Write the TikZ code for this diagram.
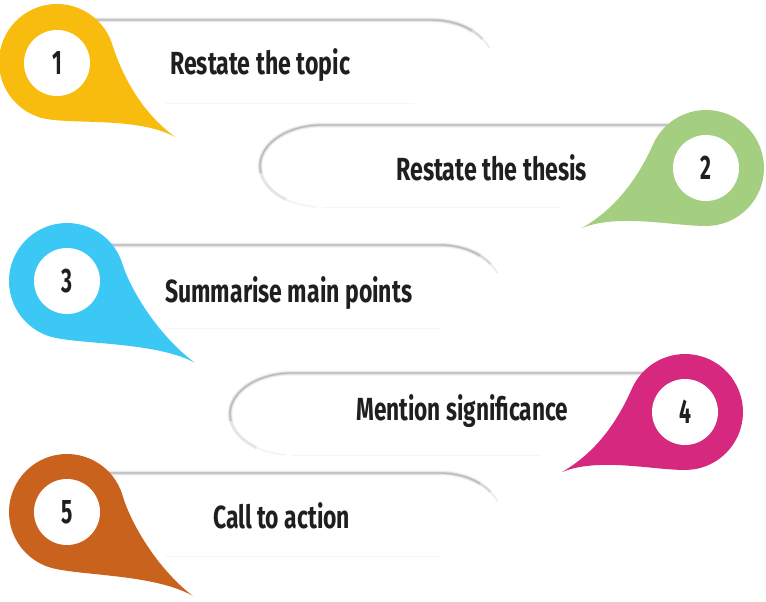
\documentclass[tikz,border=0pt]{standalone}
\usepackage{fontspec}
\setmainfont{Fira Sans}
\usepackage{graphicx}
\definecolor{pinyellow}{HTML}{F8BC0E}
\definecolor{pingreen}{HTML}{A4CF80}
\definecolor{pincyan}{HTML}{3CC8F4}
\definecolor{pinmagenta}{HTML}{D5287E}
\definecolor{pinorange}{HTML}{C8621C}
\tikzset{
  lbl/.style={font=\fontsize{32}{36}\selectfont\bfseries, text=black!88, inner sep=0pt},
  num/.style={font=\fontsize{34}{38}\selectfont\bfseries, text=black!88, inner sep=0pt},
  shadA/.style={line width=5pt, draw=gray!10, line cap=round},
  shadB/.style={line width=3pt, draw=gray!28, line cap=round},
  shadC/.style={line width=1.3pt, draw=gray!55, line cap=round},
  faint/.style={line width=1pt, draw=gray!7},
  hole/.style={circle, fill=white, minimum size=66pt, inner sep=0pt}
}
% #1 x, #2 y (pixels down), #3 xscale, #4 rotation, #5 tail length, #6 colour
\newcommand\drawpin[6]{%
  \begin{scope}[shift={(#1,-#2)}, xscale=#3, rotate=#4]
    \fill[#6] (#5,0) .. controls (#5-45,3) and (58.7,26.4) .. (50:58)
      arc[start angle=50, end angle=285, radius=58]
      .. controls (42.1,-48.8) and (#5-45,-3) .. (#5,0) -- cycle;
  \end{scope}}
% banner with round right end: #1 left x, #2 top y, #3 arc centre x, #4 bottom faint right x
\newcommand\bannerR[4]{%
  \foreach \s in {shadA,shadB,shadC}{
    \draw[\s] (#1,-#2) -- (#3,-#2) arc[start angle=90, end angle=50, x radius=62, y radius=45];
  }
  \draw[line width=2.6pt, draw=gray!30] (#3,-#2-45) ++(50:62 and 45)
     arc[start angle=50, end angle=35, x radius=62, y radius=45];
  \draw[line width=1.8pt, draw=gray!14] (#3,-#2-45) ++(35:62 and 45)
     arc[start angle=35, end angle=22, x radius=62, y radius=45];
  \draw[faint] (165,-#2-83) -- (#4,-#2-83);
}
% banner with round left end: #1 right x, #2 top y, #3 arc centre x, #4 bottom faint left x
\newcommand\bannerL[4]{%
  \foreach \s in {shadA,shadB,shadC}{
    \draw[\s] (#1,-#2) -- (#3,-#2) arc[start angle=90, end angle=190, x radius=62, y radius=41];
  }
  \draw[line width=3pt, draw=gray!20] (#3,-#2-41) ++(190:62 and 41)
     arc[start angle=190, end angle=235, x radius=62, y radius=41];
  \draw[line width=1.5pt, draw=gray!10] (#3,-#2-41) ++(235:62 and 41)
     arc[start angle=235, end angle=265, x radius=62, y radius=41];
  \draw[faint] (#3,-#2-82) -- (#4,-#2-82);
}
\begin{document}
\begin{tikzpicture}[x=1pt, y=1pt]
\useasboundingbox (0,0) rectangle (766,-602);
% banners
\bannerR{80}{20}{432}{415}
\bannerL{700}{125}{322}{560}
\bannerR{90}{245}{440}{440}
\bannerL{680}{373}{292}{540}
\bannerR{90}{473}{440}{440}
% pins
\drawpin{57}{62}{1}{-32.4}{140}{pinyellow}
\drawpin{706}{168}{-1}{-25.8}{138}{pingreen}
\drawpin{67}{281}{1}{-32.6}{152}{pincyan}
\drawpin{685}{412}{-1}{-26}{137}{pinmagenta}
\drawpin{67}{512}{1}{-33.7}{151}{pinorange}
% holes and numbers
\node[hole] (h1) at (57,-63) {};
\node[hole] (h2) at (706,-168) {};
\node[hole] (h3) at (67,-281) {};
\node[hole] (h4) at (685,-412) {};
\node[hole] (h5) at (67,-512) {};
\node[num] (n1) at (h1) {\scalebox{0.62}[1]{1}};
\node[num] (n2) at (h2) {\scalebox{0.62}[1]{2}};
\node[num] (n3) at (h3) {\scalebox{0.62}[1]{3}};
\node[num] (n4) at (h4) {\scalebox{0.62}[1]{4}};
\node[num] (n5) at (h5) {\scalebox{0.62}[1]{5}};
% labels
\node[lbl, anchor=base west] (t1) at (170,-75) {\resizebox{180pt}{\height}{Restate the topic}};
\node[lbl, anchor=base west] (t2) at (396,-180) {\resizebox{191pt}{\height}{Restate the thesis}};
\node[lbl, anchor=base west] (t3) at (165,-302) {\resizebox{247pt}{\height}{Summarise main points}};
\node[lbl, anchor=base west] (t4) at (356,-420) {\resizebox{212pt}{\height}{Mention significance}};
\node[lbl, anchor=base west] (t5) at (213,-528) {\resizebox{137pt}{\height}{Call to action}};
\end{tikzpicture}
\end{document}
